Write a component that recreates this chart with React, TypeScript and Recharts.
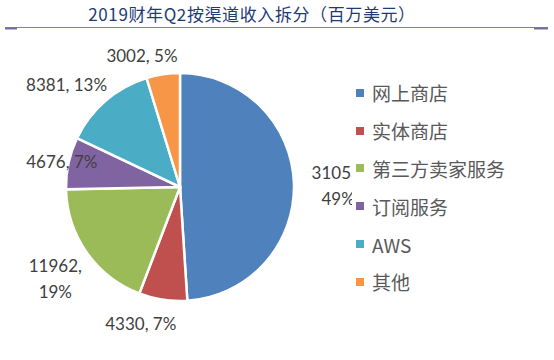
import React from 'react';
import { PieChart, Pie, Cell, Legend } from 'recharts';

const title = '2019财年Q2按渠道收入拆分（百万美元）';
const categories = ['网上商店', '实体商店', '第三方卖家服务', '订阅服务', 'AWS', '其他'];
const revenues = [31053, 4330, 11962, 4676, 8381, 3002];
const colors = ['#4F81BD', '#C0504D', '#9BBB59', '#8064A2', '#4BACC6', '#F79646'];

// label styling (wrap flags and small offsets relative to the computed radial position)
const labelWrap = [true, false, true, false, false, false];
const labelNudge: [number, number][] = [[11, 3], [-19, 2], [2, 2], [35, 7], [-13, 13], [-18, 2]];

const data = categories.map((name, i) => ({ name, value: revenues[i] }));

const LABEL_FONT = 'Lato, "Liberation Sans", sans-serif';
const FS = 17;
const LH = 26;

const renderLabel = (props: any) => {
  const { cx, cy, midAngle, outerRadius, value, percent, index } = props;
  const RAD = Math.PI / 180;
  const ux = Math.cos(-midAngle * RAD);
  const uy = Math.sin(-midAngle * RAD);
  const pct = Math.round(percent * 100) + '%';
  const lines = labelWrap[index] ? [`${value},`, pct] : [`${value}, ${pct}`];
  const w = Math.max(...lines.map((l) => l.length * FS * 0.52));
  const h = lines.length * LH - 6;
  const ext = (Math.abs(ux) * w) / 2 + (Math.abs(uy) * h) / 2;
  const d = outerRadius + 6 + ext;
  const x = cx + ux * d + labelNudge[index][0];
  const y = cy + uy * d + labelNudge[index][1];
  const y0 = y - ((lines.length - 1) * LH) / 2;
  return (
    <text
      key={'lbl' + index}
      x={x}
      y={y0}
      textAnchor="middle"
      dominantBaseline="central"
      fill="#404040"
      fontSize={FS}
      fontFamily={LABEL_FONT}
    >
      {lines.map((l, i) => (
        <tspan key={i} x={x} y={y0 + i * LH} dominantBaseline="central">
          {l}
        </tspan>
      ))}
    </text>
  );
};

const LegendContent = () => (
  <div style={{ background: '#fff', paddingLeft: 4 }}>
    {categories.map((c, i) => (
      <div
        key={c}
        style={{
          height: 37.8,
          display: 'flex',
          alignItems: 'center',
          fontFamily: '"Noto Sans CJK SC", sans-serif',
          fontSize: 19,
          color: '#595959',
          whiteSpace: 'nowrap',
        }}
      >
        <span style={{ display: 'inline-block', width: 8, height: 8, background: colors[i], marginRight: 8 }} />
        {c}
      </div>
    ))}
  </div>
);

export default function App() {
  return (
    <div style={{ position: 'absolute', left: 0, top: 0, width: 554, height: 360, background: '#fff' }}>
      <PieChart width={554} height={360} margin={{ top: 0, right: 0, bottom: 0, left: 0 }}>
        <Pie
          data={data}
          dataKey="value"
          nameKey="name"
          cx={180}
          cy={187}
          outerRadius={114}
          startAngle={90}
          endAngle={-270}
          stroke="#fff"
          strokeWidth={2.5}
          label={renderLabel}
          labelLine={false}
          isAnimationActive={false}
        >
          {data.map((d, i) => (
            <Cell key={d.name} fill={colors[i]} />
          ))}
        </Pie>
        <Legend
          layout="vertical"
          verticalAlign="top"
          align="right"
          content={<LegendContent />}
          wrapperStyle={{ position: 'absolute', left: 352, top: 74, width: 200 }}
        />
      </PieChart>
      <svg
        width={554}
        height={40}
        style={{ position: 'absolute', left: 0, top: 0, pointerEvents: 'none' }}
      >
        <text
          x={252}
          y={13}
          textAnchor="middle"
          dominantBaseline="central"
          fill="#1F3B73"
          fontSize={17}
          letterSpacing={0.6}
          fontFamily='"Noto Sans CJK SC", sans-serif'
        >
          {title}
        </text>
        <line x1={5} x2={548} y1={27.5} y2={27.5} stroke="#8080B0" strokeWidth={1.2} />
        <line x1={5} x2={17} y1={28.5} y2={28.5} stroke="#7070A0" strokeWidth={2} />
        <line x1={534} x2={548} y1={28.5} y2={28.5} stroke="#7070A0" strokeWidth={2} />
      </svg>
    </div>
  );
}
